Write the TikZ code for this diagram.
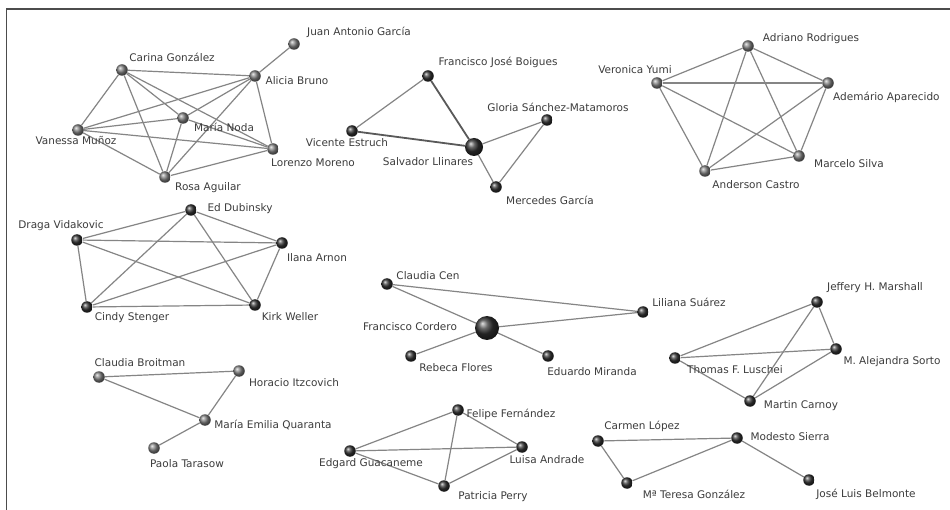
\documentclass[tikz,border=0pt]{standalone}
\usepackage{fontspec}
\setmainfont{DejaVu Sans}
\usetikzlibrary{positioning,shapes}
\definecolor{edgegray}{HTML}{858585}
\definecolor{txtgray}{HTML}{3C3C3C}
\tikzset{
  person/.style={circle, inner sep=0pt, minimum size=11.5pt, shading=ball},
  lightp/.style={person, ball color=black!50},
  darkp/.style={person, ball color=black!80},
  bigp/.style={darkp, minimum size=#1},
  lbl/.style={text=txtgray, font=\fontsize{10.5}{12}\selectfont, inner sep=0pt},
  link/.style={draw=edgegray, line width=1.2pt},
  heavy/.style={draw=black!65, line width=1.8pt},
  frame/.style={draw=black!70, line width=1.6pt}
}
\begin{document}
\begin{tikzpicture}[x=1pt,y=-1pt]
        \useasboundingbox[fill=white] (0,0) rectangle (950,510);
        \draw[frame] (950,9) -- (6.5,9) -- (6.5,510);
        %nodes
        \node[lightp] (juan) at (294,44) {};
        \node[lightp] (carina) at (122,70) {};
        \node[lightp] (alicia) at (255,76) {};
        \node[lightp] (noda) at (183,118) {};
        \node[lightp] (vanessa) at (78,130) {};
        \node[lightp] (lorenzo) at (273,149) {};
        \node[lightp] (rosa) at (165,177) {};
        \node[darkp] (boigues) at (428,76) {};
        \node[darkp] (estruch) at (352,131) {};
        \node[bigp=18pt] (llinares) at (474,147) {};
        \node[darkp] (gloria) at (547,120) {};
        \node[darkp] (mercedes) at (496,187) {};
        \node[lightp] (adriano) at (748,46) {};
        \node[lightp] (veronica) at (657,83) {};
        \node[lightp] (ademario) at (828,83) {};
        \node[lightp] (marcelo) at (799,156) {};
        \node[lightp] (anderson) at (705,171) {};
        \node[darkp] (ed) at (191,210) {};
        \node[darkp] (draga) at (77,240) {};
        \node[darkp] (ilana) at (282,243) {};
        \node[darkp] (cindy) at (87,307) {};
        \node[darkp] (kirk) at (255,305) {};
        \node[darkp] (cen) at (387,284) {};
        \node[bigp=24pt] (cordero) at (487,328) {};
        \node[darkp] (liliana) at (643,312) {};
        \node[darkp] (rebeca) at (411,356) {};
        \node[darkp] (eduardo) at (548,356) {};
        \node[darkp] (marshall) at (817,302) {};
        \node[darkp] (sorto) at (836,349) {};
        \node[darkp] (luschei) at (675,358) {};
        \node[darkp] (carnoy) at (750,401) {};
        \node[lightp] (broitman) at (99,377) {};
        \node[lightp] (itzcovich) at (239,371) {};
        \node[lightp] (quaranta) at (205,420) {};
        \node[lightp] (tarasow) at (154,448) {};
        \node[darkp] (felipe) at (458,410) {};
        \node[darkp] (edgard) at (350,451) {};
        \node[darkp] (luisa) at (522,447) {};
        \node[darkp] (perry) at (444,486) {};
        \node[darkp] (carmen) at (598,441) {};
        \node[darkp] (modesto) at (737,438) {};
        \node[darkp] (teresa) at (627,483) {};
        \node[darkp] (belmonte) at (809,480) {};
        %edges
        \foreach \a/\b in {juan/alicia, carina/alicia, carina/noda, carina/vanessa,
            carina/lorenzo, carina/rosa, alicia/noda, alicia/vanessa, alicia/lorenzo,
            alicia/rosa, noda/vanessa, noda/lorenzo, noda/rosa, vanessa/lorenzo,
            vanessa/rosa, lorenzo/rosa}
          \path[link] (\a) -- (\b);
        \path[link] (boigues) -- (estruch);
        \path[heavy] (boigues) -- (llinares);
        \path[heavy] (estruch) -- (llinares);
        \foreach \a/\b in {llinares/gloria, llinares/mercedes, gloria/mercedes}
          \path[link] (\a) -- (\b);
        \foreach \a/\b in {veronica/adriano, veronica/ademario, veronica/marcelo,
            veronica/anderson, adriano/ademario, adriano/marcelo, adriano/anderson,
            ademario/marcelo, ademario/anderson, marcelo/anderson}
          \path[link] (\a) -- (\b);
        \foreach \a/\b in {draga/ed, draga/ilana, draga/cindy, draga/kirk, ed/ilana,
            ed/cindy, ed/kirk, ilana/cindy, ilana/kirk, cindy/kirk}
          \path[link] (\a) -- (\b);
        \foreach \a/\b in {cen/cordero, cen/liliana, cordero/liliana, cordero/rebeca,
            cordero/eduardo}
          \path[link] (\a) -- (\b);
        \foreach \a/\b in {marshall/luschei, marshall/sorto, marshall/carnoy,
            luschei/sorto, luschei/carnoy, sorto/carnoy}
          \path[link] (\a) -- (\b);
        \foreach \a/\b in {broitman/itzcovich, broitman/quaranta, itzcovich/quaranta,
            quaranta/tarasow}
          \path[link] (\a) -- (\b);
        \foreach \a/\b in {felipe/edgard, felipe/luisa, felipe/perry, edgard/luisa,
            edgard/perry, luisa/perry}
          \path[link] (\a) -- (\b);
        \foreach \a/\b in {carmen/modesto, carmen/teresa, teresa/modesto,
            modesto/belmonte}
          \path[link] (\a) -- (\b);
        %labels
        \node[lbl] (juanL) at (359,32) {Juan Antonio García};
        \node[lbl] (carinaL) at (172,57) {Carina González};
        \node[lbl] (aliciaL) at (297,81) {Alicia Bruno};
        \node[lbl] (nodaL) at (224,127) {María Noda};
        \node[lbl] (vanessaL) at (76,140) {Vanessa Muñoz};
        \node[lbl] (lorenzoL) at (313,163) {Lorenzo Moreno};
        \node[lbl] (rosaL) at (208,188) {Rosa Aguilar};
        \node[lbl] (boiguesL) at (498,62) {Francisco José Boigues};
        \node[lbl] (estruchL) at (347,143) {Vicente Estruch};
        \node[lbl] (llinaresL) at (428,162) {Salvador Llinares};
        \node[lbl] (gloriaL) at (558,107) {Gloria Sánchez-Matamoros};
        \node[lbl] (mercedesL) at (550,200) {Mercedes García};
        \node[lbl] (adrianoL) at (811,39) {Adriano Rodrigues};
        \node[lbl] (veronicaL) at (635,70) {Veronica Yumi};
        \node[lbl, anchor=west] (ademarioL) at (833,97) {Ademário Aparecido};
        \node[lbl] (marceloL) at (849,164) {Marcelo Silva};
        \node[lbl] (andersonL) at (756,185) {Anderson Castro};
        \node[lbl] (edL) at (240,209) {Ed Dubinsky};
        \node[lbl] (dragaL) at (61,226) {Draga Vidakovic};
        \node[lbl] (ilanaL) at (317,258) {Ilana Arnon};
        \node[lbl] (cindyL) at (132,318) {Cindy Stenger};
        \node[lbl] (kirkL) at (290,317) {Kirk Weller};
        \node[lbl] (cenL) at (428,276) {Claudia Cen};
        \node[lbl] (corderoL) at (410,327) {Francisco Cordero};
        \node[lbl] (lilianaL) at (689,302) {Liliana Suárez};
        \node[lbl] (rebecaL) at (456,368) {Rebeca Flores};
        \node[lbl] (eduardoL) at (592,372) {Eduardo Miranda};
        \node[lbl] (marshallL) at (875,288) {Jeffery H. Marshall};
        \node[lbl] (sortoL) at (892,362) {M. Alejandra Sorto};
        \node[lbl] (luscheiL) at (735,370) {Thomas F. Luschei};
        \node[lbl] (carnoyL) at (801,406) {Martin Carnoy};
        \node[lbl] (broitmanL) at (140,363) {Claudia Broitman};
        \node[lbl] (itzcovichL) at (294,383) {Horacio Itzcovich};
        \node[lbl] (quarantaL) at (273,425) {María Emilia Quaranta};
        \node[lbl] (tarasowL) at (187,464) {Paola Tarasow};
        \node[lbl] (felipeL) at (511,414) {Felipe Fernández};
        \node[lbl] (edgardL) at (371,464) {Edgard Guacaneme};
        \node[lbl] (luisaL) at (547,460) {Luisa Andrade};
        \node[lbl] (perryL) at (493,497) {Patricia Perry};
        \node[lbl] (carmenL) at (642,426) {Carmen López};
        \node[lbl] (modestoL) at (790,437) {Modesto Sierra};
        \node[lbl] (teresaL) at (694,494) {Mª Teresa González};
        \node[lbl] (belmonteL) at (866,494) {José Luis Belmonte};
      \end{tikzpicture}
\end{document}
